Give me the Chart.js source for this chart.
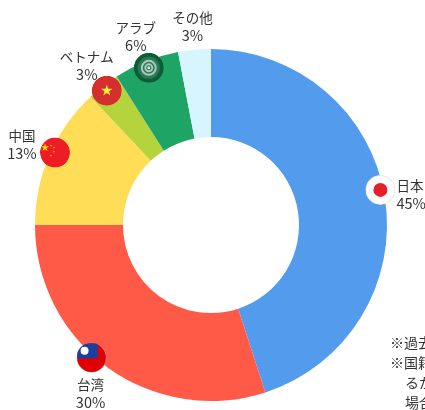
<!DOCTYPE html>
<html lang="ja">
<head>
<meta charset="utf-8">
<title>国籍別</title>
<script src="https://cdn.jsdelivr.net/npm/chart.js@4"></script>
<style>
  html, body { margin: 0; padding: 0; width: 425px; height: 410px; overflow: hidden; background: #fff; }
  #wrap { position: relative; width: 425px; height: 410px; }
  #notes { position: absolute; left: 390px; top: 332px; width: 35px; overflow: hidden; white-space: nowrap;
           font: 14px/20px "Noto Sans CJK JP", sans-serif; color: #333; }
  #notes div.indent { padding-left: 15px; }
</style>
</head>
<body>
<div id="wrap">
  <canvas id="chart" width="425" height="410"></canvas>
  <div id="notes">
    <div>※過去</div>
    <div>※国籍</div>
    <div class="indent">るか</div>
    <div class="indent">場合</div>
  </div>
</div>
<script>
const categories = ['日本', '台湾', '中国', 'ベトナム', 'アラブ', 'その他'];
const shares = [45, 30, 13, 3, 6, 3];
const sliceColors = ['#539bec', '#ff5a47', '#ffdd57', '#b5d33d', '#1ea566', '#d6f5ff'];

// flag placement relative to each slice: angle shift (deg), radial shift (px)
const flagShift = [[-2.7, -3], [6, 2.5], [1.5, -4], [0, -6], [0, -7], null];
const flagNames = ['japan', 'taiwan', 'china', 'vietnam', 'arab', null];
// label placement relative to the flag (or the arc edge if no flag)
const labelOffset = [[16, -4], [-1, 27], [-33, -17], [-20, -34], [-13, -40], [-2, -32]];
const labelAlign = ['left', 'center', 'center', 'center', 'center', 'center'];

const FLAG_R = 15;

function star(ctx, x, y, r, color) {
  ctx.fillStyle = color;
  ctx.beginPath();
  for (let i = 0; i < 10; i++) {
    const a = -Math.PI / 2 + i * Math.PI / 5;
    const d = i % 2 ? r * 0.4 : r;
    ctx.lineTo(x + Math.cos(a) * d, y + Math.sin(a) * d);
  }
  ctx.closePath();
  ctx.fill();
}

function disc(ctx, r, color, x = 0, y = 0) {
  ctx.fillStyle = color;
  ctx.beginPath();
  ctx.arc(x, y, r, 0, Math.PI * 2);
  ctx.fill();
}

const flags = {
  japan(ctx) {
    disc(ctx, FLAG_R, '#e4e8ea');
    disc(ctx, FLAG_R - 1, '#fff');
    disc(ctx, 7, '#e8202a');
  },
  taiwan(ctx) {
    disc(ctx, FLAG_R, '#a9a0a8');
    disc(ctx, FLAG_R - 0.7, '#e00000');
    ctx.fillStyle = '#1c3f9e';
    ctx.fillRect(-FLAG_R + 0.7, -FLAG_R + 0.7, FLAG_R + 5.5, FLAG_R);
    disc(ctx, 4, '#fff', -7, -7);
  },
  china(ctx) {
    disc(ctx, FLAG_R, '#ee1c25');
    star(ctx, -10, -5, 4.2, '#ffde00');
    [[-4, -7], [-1, -5], [-1, -1], [-4, 3]].forEach(p => star(ctx, p[0], p[1], 1.2, '#ffde00'));
  },
  vietnam(ctx) {
    disc(ctx, FLAG_R, '#d32f2f');
    star(ctx, 0, 0, 6, '#ffeb3b');
  },
  arab(ctx) {
    disc(ctx, FLAG_R, '#0d5c38');
    disc(ctx, 11, '#2b7a57');
    ctx.strokeStyle = '#a9c8b9';
    ctx.lineWidth = 2;
    [7, 3.5].forEach(r => {
      ctx.beginPath();
      ctx.arc(0, 0, r, 0, Math.PI * 2);
      ctx.stroke();
    });
    disc(ctx, 1.5, '#d5e3dc');
  }
};

const sliceLabels = {
  id: 'sliceLabels',
  afterDatasetsDraw(chart) {
    const ctx = chart.ctx;
    const arcs = chart.getDatasetMeta(0).data;
    arcs.forEach((arc, i) => {
      const mid = (arc.startAngle + arc.endAngle) / 2;
      const shift = flagShift[i] || [0, 0];
      const a = mid + shift[0] * Math.PI / 180;
      const r = arc.outerRadius + shift[1];
      const x = arc.x + Math.cos(a) * r;
      const y = arc.y + Math.sin(a) * r;

      if (flagNames[i]) {
        ctx.save();
        ctx.translate(x, y);
        ctx.beginPath();
        ctx.arc(0, 0, FLAG_R, 0, Math.PI * 2);
        ctx.clip();
        flags[flagNames[i]](ctx);
        ctx.restore();
      }

      ctx.save();
      ctx.fillStyle = '#333';
      ctx.font = '13.5px "Noto Sans CJK JP", sans-serif';
      ctx.textAlign = labelAlign[i];
      ctx.textBaseline = 'middle';
      ctx.fillText(categories[i], x + labelOffset[i][0], y + labelOffset[i][1]);
      ctx.font = '14.5px "Noto Sans CJK JP", sans-serif';
      ctx.fillText(shares[i] + '%', x + labelOffset[i][0], y + labelOffset[i][1] + 18);
      ctx.restore();
    });
  }
};

new Chart(document.getElementById('chart'), {
  type: 'doughnut',
  data: {
    labels: categories,
    datasets: [{ data: shares, backgroundColor: sliceColors, borderWidth: 0 }]
  },
  options: {
    responsive: false,
    animation: false,
    cutout: '50%',
    layout: { padding: { top: 49, bottom: 9, left: 35, right: 38 } },
    plugins: { legend: { display: false }, tooltip: { enabled: false } }
  },
  plugins: [sliceLabels]
});
</script>
</body>
</html>
